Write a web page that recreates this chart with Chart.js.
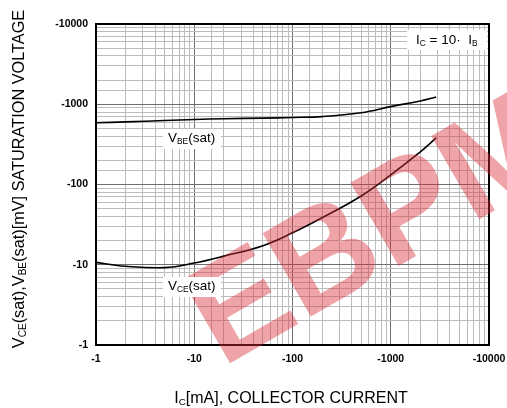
<!DOCTYPE html>
<html>
<head>
<meta charset="utf-8">
<script src="https://cdn.jsdelivr.net/npm/chart.js@4/dist/chart.umd.min.js"></script>
<style>
  html, body { margin: 0; padding: 0; background: #fff; }
  #wrap { width: 507px; height: 408px; }
</style>
</head>
<body>
<div id="wrap"><canvas id="chart" width="507" height="408"></canvas></div>
<script>
// values (magnitudes; the axis labels carry the minus sign)
const vbeCurrent = [1, 2, 5, 10, 20, 50, 100, 200, 500, 1000, 2000, 2900];
const vbeVoltage = [588, 603, 627, 647, 660, 672, 684, 702, 785, 935, 1100, 1230];

const vceCurrent = [1, 2, 5, 10, 20, 50, 100, 200, 500, 1000, 2000, 2900];
const vceVoltage = [10.7, 9.6, 9.2, 10.5, 12.8, 17.3, 25, 38.5, 72, 132, 255, 380];

const xTicks = [1, 10, 100, 1000, 10000];
const yTicks = [1, 10, 100, 1000, 10000];

const FONT = "'Liberation Sans', Arial, sans-serif";

const isDecade = v => xTicks.includes(v) || yTicks.includes(v);

const toPoints = (xs, ys) => xs.map((x, i) => ({ x: x, y: ys[i] }));

// draw text with subscript pieces: parts = [[text, isSub], ...]
function richWidth(ctx, parts, size) {
  let w = 0;
  parts.forEach(p => {
    ctx.font = (p[1] ? size * 0.62 : size) + "px " + FONT;
    w += ctx.measureText(p[0]).width;
  });
  return w;
}
function drawRich(ctx, parts, x, y, size) {
  parts.forEach(p => {
    ctx.font = (p[1] ? size * 0.62 : size) + "px " + FONT;
    ctx.fillText(p[0], x, p[1] ? y + size * 0.12 : y);
    x += ctx.measureText(p[0]).width;
  });
}
function labelBox(ctx, parts, x, y, size, box) {
  ctx.fillStyle = "#fff";
  ctx.fillRect(box[0], box[1], box[2], box[3]);
  ctx.fillStyle = "#000";
  ctx.textAlign = "left";
  ctx.textBaseline = "alphabetic";
  drawRich(ctx, parts, x, y, size);
}

const extras = {
  id: "extras",
  afterDraw(chart) {
    const ctx = chart.ctx;
    const a = chart.chartArea;
    ctx.save();

    // plot frame
    ctx.strokeStyle = "#000";
    ctx.lineWidth = 2;
    ctx.strokeRect(a.left, a.top, a.right - a.left, a.bottom - a.top);

    // watermark
    ctx.save();
    ctx.translate(222, 368);
    ctx.rotate(-30 * Math.PI / 180);
    ctx.fillStyle = "rgba(215, 45, 55, 0.43)";
    ctx.font = "bold 140px " + FONT;
    ctx.textAlign = "left";
    ctx.textBaseline = "alphabetic";
    ctx.fillText("EBPM", 0, 0);
    ctx.restore();

    // curve labels
    labelBox(ctx, [["V", false], ["BE", true], ["(sat)", false]], 168, 142, 13.5, [163, 129, 58, 20]);
    labelBox(ctx, [["V", false], ["CE", true], ["(sat)", false]], 168, 290, 13.5, [163, 277, 58, 20]);
    labelBox(ctx, [["I", false], ["C", true], [" = 10\u00b7  I", false], ["B", true]], 416, 44, 13.5, [407, 30, 80, 20]);

    // axis titles
    ctx.fillStyle = "#000";
    ctx.textBaseline = "alphabetic";
    const xt = [["I", false], ["C", true], ["[mA], COLLECTOR CURRENT", false]];
    const xs = 16;
    const xw = richWidth(ctx, xt, xs);
    drawRich(ctx, xt, 291 - xw / 2, 403, xs);

    const yt = [["V", false], ["CE", true], ["(sat),V", false], ["BE", true], ["(sat)[mV] SATURATION VOLTAGE", false]];
    const ys = 16.3;
    const yw = richWidth(ctx, yt, ys);
    ctx.save();
    ctx.translate(24, 179);
    ctx.rotate(-Math.PI / 2);
    drawRich(ctx, yt, -yw / 2, 0, ys);
    ctx.restore();

    ctx.restore();
  }
};

const gridColor = c => (c.tick && isDecade(c.tick.value)) ? "#6e6e6e" : "#bcbcbc";

new Chart(document.getElementById("chart").getContext("2d"), {
  type: "line",
  data: {
    datasets: [
      {
        label: "VBE(sat)",
        data: toPoints(vbeCurrent, vbeVoltage),
        borderColor: "#000",
        borderWidth: 1.6,
        pointRadius: 0,
        tension: 0.4,
        fill: false
      },
      {
        label: "VCE(sat)",
        data: toPoints(vceCurrent, vceVoltage),
        borderColor: "#000",
        borderWidth: 1.6,
        pointRadius: 0,
        tension: 0.4,
        fill: false
      }
    ]
  },
  options: {
    responsive: false,
    animation: false,
    layout: { padding: { top: 24, right: 0, left: 0, bottom: 0 } },
    plugins: {
      legend: { display: false },
      tooltip: { enabled: false }
    },
    scales: {
      x: {
        type: "logarithmic",
        min: 1,
        max: 10000,
        afterFit: s => { s.height = 63; s.paddingRight = 18; s.paddingLeft = 0; },
        grid: { color: gridColor, lineWidth: 1, drawTicks: false },
        border: { display: false },
        ticks: {
          autoSkip: false,
          maxRotation: 0,
          padding: 8,
          color: "#000",
          font: { family: FONT, size: 10.5, weight: "bold" },
          callback: v => xTicks.includes(v) ? "-" + v : ""
        }
      },
      y: {
        type: "logarithmic",
        min: 1,
        max: 10000,
        afterFit: s => { s.width = 96; },
        grid: { color: gridColor, lineWidth: 1, drawTicks: false },
        border: { display: false },
        ticks: {
          autoSkip: false,
          padding: 8,
          color: "#000",
          font: { family: FONT, size: 10.5, weight: "bold" },
          callback: v => yTicks.includes(v) ? "-" + v : ""
        }
      }
    }
  },
  plugins: [extras]
});
</script>
</body>
</html>
